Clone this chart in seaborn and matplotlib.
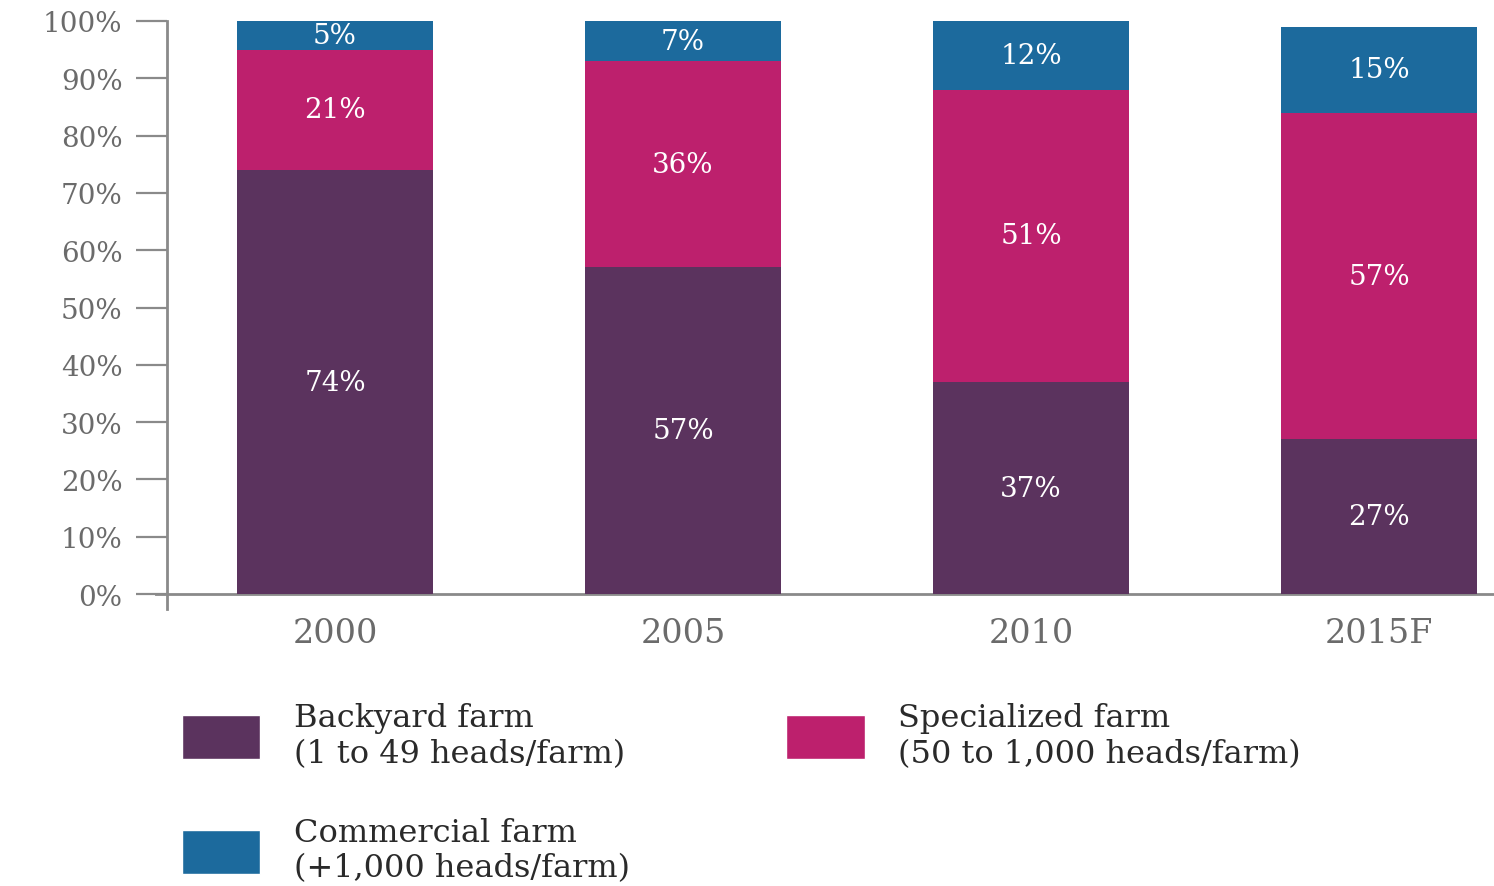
import matplotlib
matplotlib.use("Agg")
import matplotlib.pyplot as plt
from matplotlib.patches import Patch
import seaborn as sns
import numpy as np

years = ["2000", "2005", "2010", "2015F"]
backyard = [74, 57, 37, 27]
specialized = [21, 36, 51, 57]
commercial = [5, 7, 12, 15]

series_names = ["Backyard farm\n(1 to 49 heads/farm)",
                "Specialized farm\n(50 to 1,000 heads/farm)",
                "Commercial farm\n(+1,000 heads/farm)"]
colors = ["#5B335E", "#BD206D", "#1C6A9D"]

sns.set_theme(style="white")
plt.rcParams["font.family"] = ["DejaVu Serif", "DejaVu Sans"]

fig = plt.figure(figsize=(14.94, 8.87), dpi=100)
ax = fig.add_axes([155 / 1494, 1 - 610 / 887, 1 - 155 / 1494, (610 - 22) / 887])

grey = "#8a8a8a"
label_grey = "#6b6b6b"

bottom = np.zeros(len(years))
for vals, col in zip([backyard, specialized, commercial], colors):
    sns.barplot(x=years, y=vals, bottom=bottom, color=col, width=0.565,
                saturation=1, ax=ax, linewidth=0)
    bottom = bottom + np.array(vals)

for cont in ax.containers:
    ax.bar_label(cont, labels=[f"{int(round(b.get_height()))}%" for b in cont],
                 label_type="center", color="white", fontsize=20)

ax.set_xlim(-0.517, 3.33)
ax.set_ylim(-2.6, 100)
ax.set_yticks(np.arange(0, 101, 10))
ax.set_yticklabels([f"{v}%" for v in range(0, 101, 10)])

for s in ["top", "right", "bottom"]:
    ax.spines[s].set_visible(False)
ax.spines["left"].set_position(("data", -0.483))
ax.spines["left"].set_color(grey)
ax.spines["left"].set_linewidth(2)
ax.axhline(0, color=grey, linewidth=2, zorder=0.5)

ax.tick_params(axis="y", left=True, length=22, width=1.6, color=grey,
               labelsize=20, labelcolor=label_grey, pad=10)
ax.tick_params(axis="x", bottom=False, labelsize=24, labelcolor=label_grey, pad=0)
ax.set_xlabel("")
ax.set_ylabel("")

handles = [Patch(facecolor=colors[0]), Patch(facecolor=colors[2]), Patch(facecolor=colors[1])]
labels = [series_names[0], series_names[2], series_names[1]]
fig.legend(handles, labels, ncol=2, loc="upper left",
           bbox_to_anchor=(166 / 1494, 1 - 687 / 887), frameon=False,
           fontsize=23, labelcolor="#2a2a2a", handlelength=2.45, handleheight=1.75,
           handletextpad=1.05, columnspacing=4.9, labelspacing=1.5, borderpad=0)

fig.savefig("out.png", dpi=100)
